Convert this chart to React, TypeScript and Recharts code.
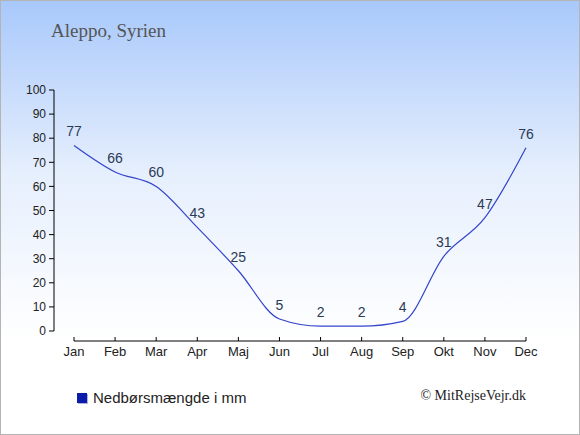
import React from 'react';
import { LineChart, Line, XAxis, YAxis, LabelList, Legend } from 'recharts';

const title = 'Aleppo, Syrien';
const credit = '© MitRejseVejr.dk';
const seriesName = 'Nedbørsmængde i mm';
const months = ['Jan', 'Feb', 'Mar', 'Apr', 'Maj', 'Jun', 'Jul', 'Aug', 'Sep', 'Okt', 'Nov', 'Dec'];
const precipitation = [77, 66, 60, 43, 25, 5, 2, 2, 4, 31, 47, 76];
const yTicks = [0, 10, 20, 30, 40, 50, 60, 70, 80, 90, 100];

const data = months.map((m, i) => ({ month: m, value: precipitation[i] }));

const LegendContent = () => (
  <div style={{ display: 'flex', alignItems: 'center', fontFamily: 'Arial, "Liberation Sans", sans-serif', fontSize: 15, color: '#222' }}>
    <span style={{ display: 'inline-block', width: 10, height: 10, background: '#0c1caa', boxShadow: '1px 1px 0 #aab4e0' }} />
    <span style={{ marginLeft: 6, whiteSpace: 'nowrap' }}>{seriesName}</span>
  </div>
);

export default function App() {
  return (
    <div
      style={{
        position: 'absolute',
        left: 0,
        top: 0,
        width: 580,
        height: 435,
        background: 'linear-gradient(to bottom, #a8c8fb 0%, #e6effd 40%, #ffffff 78%, #ffffff 100%)',
        boxShadow: 'inset 0 0 0 1px #b4b4b4',
        overflow: 'hidden',
      }}
    >
      <div
        style={{
          position: 'absolute',
          left: 51,
          top: 20,
          fontFamily: '"Liberation Serif", "Times New Roman", serif',
          fontSize: 19,
          color: '#555',
          whiteSpace: 'nowrap',
        }}
      >
        {title}
      </div>
      <div
        style={{
          position: 'absolute',
          right: 54,
          top: 388,
          fontFamily: '"Liberation Serif", "Times New Roman", serif',
          fontSize: 14,
          color: '#222',
          whiteSpace: 'nowrap',
        }}
      >
        {credit}
      </div>
      <LineChart width={580} height={435} data={data} margin={{ top: 90, right: 54, bottom: 64, left: 14 }}>
        <XAxis xAxisId="a" dataKey="month" height={10} axisLine={false} tickLine={false} tick={false} />
        <XAxis
          xAxisId="b"
          dataKey="month"
          height={30}
          axisLine={{ stroke: '#000', strokeWidth: 1 }}
          tickLine={{ stroke: '#000' }}
          tickSize={-4}
          tickMargin={10}
          interval={0}
          tick={{ fill: '#222', fontSize: 13, fontFamily: 'Arial, "Liberation Sans", sans-serif' }}
        />
        <YAxis yAxisId="a" width={20} domain={[0, 100]} axisLine={false} tickLine={false} tick={false} />
        <YAxis
          yAxisId="b"
          width={40}
          domain={[0, 100]}
          ticks={yTicks}
          interval={0}
          axisLine={{ stroke: '#000', strokeWidth: 1 }}
          tickLine={{ stroke: '#000' }}
          tickSize={5}
          tickMargin={3}
          tick={{ fill: '#222', fontSize: 12, fontFamily: 'Arial, "Liberation Sans", sans-serif' }}
        />
        <Legend
          layout="horizontal"
          verticalAlign="middle"
          align="center"
          wrapperStyle={{ left: 77, top: 389, width: 250 }}
          content={<LegendContent />}
        />
        <Line
          xAxisId="b"
          yAxisId="b"
          type="monotone"
          dataKey="value"
          name={seriesName}
          stroke="#3344cc"
          strokeWidth={1.2}
          dot={false}
          activeDot={false}
          isAnimationActive={false}
        >
          <LabelList
            dataKey="value"
            position="top"
            offset={9}
            fill="#2b3a55"
            fontSize={14}
            fontFamily='Arial, "Liberation Sans", sans-serif'
          />
        </Line>
      </LineChart>
    </div>
  );
}
